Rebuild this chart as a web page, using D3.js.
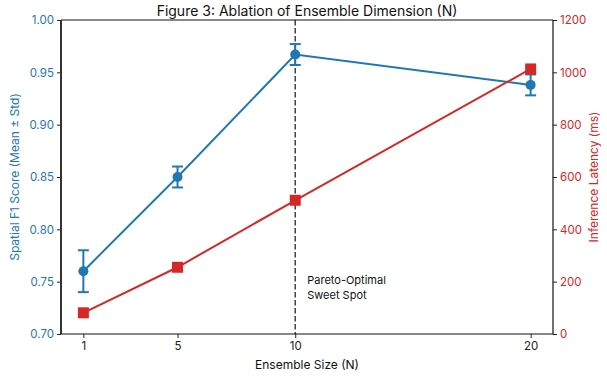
<!DOCTYPE html>
<html><head><meta charset="utf-8">
<script src="https://cdn.jsdelivr.net/npm/d3@7"></script>
<style>body{margin:0;background:#fff;} svg text{font-family:Inter,"Open Sans",sans-serif;}</style>
</head><body><svg id="c" width="607" height="379"></svg>
<script>
const ensembleSizes = [1, 5, 10, 20];
const f1Mean = [0.76, 0.85, 0.967, 0.938];
const f1Std = [0.02, 0.01, 0.01, 0.01];
const latencyMs = [81, 255, 511, 1013];
const xTicks = [1, 5, 10, 20];
const leftTicks = [0.70, 0.75, 0.80, 0.85, 0.90, 0.95, 1.00];
const rightTicks = [0, 200, 400, 600, 800, 1000, 1200];
const sweetSpot = 10;

const blue = "#1f77b4", red = "#d62728";
const m = {l: 61, r: 553, t: 20, b: 334};
const svg = d3.select("#c");
const x = d3.scaleLinear().domain([0.05, 20.95]).range([m.l, m.r]);
const yL = d3.scaleLinear().domain([0.70, 1.00]).range([m.b, m.t]);
const yR = d3.scaleLinear().domain([0, 1200]).range([m.b, m.t]);

// dashed line
svg.append("line").attr("x1", x(sweetSpot)).attr("x2", x(sweetSpot))
  .attr("y1", m.t).attr("y2", m.b).attr("stroke", "#444").attr("stroke-width", 1.5)
  .attr("stroke-dasharray", "5.5,2.5");
svg.append("text").attr("x", x(sweetSpot) + 12).attr("y", 284).attr("font-size", 11).attr("fill", "#111")
  .text("Pareto-Optimal");
svg.append("text").attr("x", x(sweetSpot) + 12).attr("y", 299).attr("font-size", 11).attr("fill", "#111")
  .text("Sweet Spot");

// F1 line
const f1 = ensembleSizes.map((n, i) => ({n, v: f1Mean[i], s: f1Std[i]}));
svg.append("path").datum(f1).attr("fill", "none").attr("stroke", blue).attr("stroke-width", 2)
  .attr("d", d3.line().x(d => x(d.n)).y(d => yL(d.v)));
const eb = svg.append("g").attr("stroke", blue).attr("stroke-width", 2);
f1.forEach(d => {
  eb.append("line").attr("x1", x(d.n)).attr("x2", x(d.n)).attr("y1", yL(d.v - d.s)).attr("y2", yL(d.v + d.s));
  [d.v - d.s, d.v + d.s].forEach(v => eb.append("line").attr("x1", x(d.n) - 5.5).attr("x2", x(d.n) + 5.5).attr("y1", yL(v)).attr("y2", yL(v)));
});
svg.append("g").selectAll("circle").data(f1).join("circle")
  .attr("cx", d => x(d.n)).attr("cy", d => yL(d.v)).attr("r", 5).attr("fill", blue);

// latency line
const lat = ensembleSizes.map((n, i) => ({n, v: latencyMs[i]}));
svg.append("path").datum(lat).attr("fill", "none").attr("stroke", red).attr("stroke-width", 2)
  .attr("d", d3.line().x(d => x(d.n)).y(d => yR(d.v)));
svg.append("g").selectAll("rect").data(lat).join("rect")
  .attr("x", d => x(d.n) - 5.5).attr("y", d => yR(d.v) - 5.5).attr("width", 11).attr("height", 11).attr("fill", red);

// axes
const ax = svg.append("g").attr("transform", `translate(0,${m.b})`)
  .call(d3.axisBottom(x).tickValues(xTicks).tickSize(4).tickPadding(4));
ax.select(".domain").remove();
ax.selectAll("text").attr("font-size", 11.5).attr("fill", "#222");
ax.selectAll(".tick line").attr("stroke", "#222");

const al = svg.append("g").attr("transform", `translate(${m.l},0)`)
  .call(d3.axisLeft(yL).tickValues(leftTicks).tickFormat(d3.format(".2f")).tickSize(4).tickPadding(3));
al.select(".domain").remove();
al.selectAll("text").attr("font-size", 11.5).attr("fill", blue);
al.selectAll(".tick line").attr("stroke", "#222");

const ar = svg.append("g").attr("transform", `translate(${m.r},0)`)
  .call(d3.axisRight(yR).tickValues(rightTicks).tickFormat(d3.format("d")).tickSize(4).tickPadding(3));
ar.select(".domain").remove();
ar.selectAll("text").attr("font-size", 11.5).attr("fill", red);
ar.selectAll(".tick line").attr("stroke", "#222");

// frame
svg.append("line").attr("x1", m.l).attr("x2", m.r).attr("y1", m.t).attr("y2", m.t).attr("stroke", "#111").attr("stroke-width", 1);
svg.append("line").attr("x1", m.l).attr("x2", m.r).attr("y1", m.b).attr("y2", m.b).attr("stroke", "#111").attr("stroke-width", 1);
svg.append("line").attr("x1", m.l).attr("x2", m.l).attr("y1", m.t).attr("y2", m.b).attr("stroke", "#333").attr("stroke-width", 2);
svg.append("line").attr("x1", m.r).attr("x2", m.r).attr("y1", m.t).attr("y2", m.b).attr("stroke", "#111").attr("stroke-width", 1.2);

// labels
svg.append("text").attr("x", 307).attr("y", 16).attr("text-anchor", "middle").attr("font-size", 14).attr("fill", "#111")
  .text("Figure 3: Ablation of Ensemble Dimension (N)");
svg.append("text").attr("x", (m.l + m.r) / 2).attr("y", 369).attr("text-anchor", "middle").attr("font-size", 12).attr("fill", "#111")
  .text("Ensemble Size (N)");
svg.append("text").attr("transform", `translate(19,${(m.t + m.b) / 2}) rotate(-90)`).attr("text-anchor", "middle")
  .attr("font-size", 12).attr("fill", blue).text("Spatial F1 Score (Mean ± Std)");
svg.append("text").attr("transform", `translate(598,${(m.t + m.b) / 2}) rotate(-90)`).attr("text-anchor", "middle")
  .attr("font-size", 12).attr("fill", red).text("Inference Latency (ms)");
</script></body></html>
